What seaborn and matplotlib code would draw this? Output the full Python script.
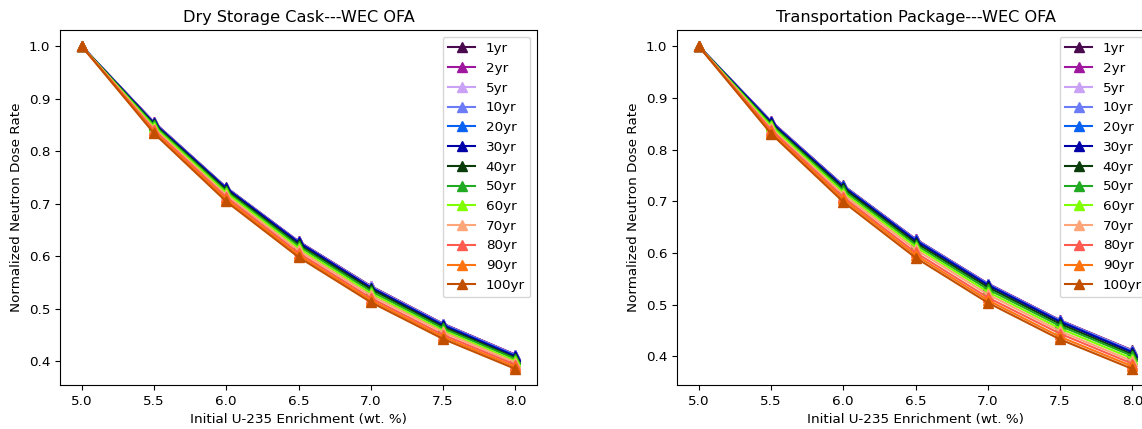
import numpy as np
import pandas as pd
import seaborn as sns
import matplotlib.pyplot as plt

plt.rcParams['font.size'] = 9.7

# enrichment (wt. %)
enrich = [5.0, 5.5, 6.0, 6.5, 7.0, 7.5, 8.0]
ages = ['1yr', '2yr', '5yr', '10yr', '20yr', '30yr', '40yr',
        '50yr', '60yr', '70yr', '80yr', '90yr', '100yr']
colors = ['#4a0a4e', '#a0179f', '#caa2f5', '#6b7cf6', '#0a62f2', '#0000a8',
          '#0b3d0b', '#22aa22', '#7fff00', '#ffa57a', '#ff5b4f', '#ff7410',
          '#c24e00']

# Dry storage cask, normalized neutron dose rate per cooling time
cask = [
    [1.0, 0.855, 0.731, 0.628, 0.543, 0.471, 0.412],
    [1.0, 0.855, 0.730, 0.628, 0.542, 0.471, 0.412],
    [1.0, 0.854, 0.730, 0.627, 0.542, 0.470, 0.411],
    [1.0, 0.854, 0.730, 0.627, 0.541, 0.470, 0.411],
    [1.0, 0.853, 0.729, 0.626, 0.540, 0.469, 0.410],
    [1.0, 0.853, 0.729, 0.626, 0.540, 0.468, 0.409],
    [1.0, 0.851, 0.726, 0.622, 0.537, 0.465, 0.406],
    [1.0, 0.849, 0.723, 0.619, 0.533, 0.462, 0.404],
    [1.0, 0.846, 0.720, 0.615, 0.529, 0.458, 0.400],
    [1.0, 0.843, 0.716, 0.611, 0.525, 0.455, 0.397],
    [1.0, 0.840, 0.712, 0.606, 0.520, 0.450, 0.393],
    [1.0, 0.837, 0.708, 0.602, 0.516, 0.446, 0.389],
    [1.0, 0.834, 0.704, 0.598, 0.512, 0.442, 0.385],
]

# Transportation package
package = [
    [1.0, 0.855, 0.731, 0.627, 0.541, 0.470, 0.412],
    [1.0, 0.855, 0.730, 0.627, 0.541, 0.470, 0.411],
    [1.0, 0.854, 0.730, 0.626, 0.540, 0.469, 0.411],
    [1.0, 0.854, 0.729, 0.626, 0.540, 0.469, 0.410],
    [1.0, 0.853, 0.729, 0.625, 0.539, 0.468, 0.409],
    [1.0, 0.853, 0.728, 0.624, 0.538, 0.467, 0.408],
    [1.0, 0.850, 0.725, 0.620, 0.534, 0.463, 0.404],
    [1.0, 0.848, 0.721, 0.616, 0.530, 0.459, 0.401],
    [1.0, 0.845, 0.717, 0.612, 0.525, 0.454, 0.396],
    [1.0, 0.841, 0.713, 0.607, 0.520, 0.449, 0.391],
    [1.0, 0.838, 0.708, 0.601, 0.514, 0.444, 0.386],
    [1.0, 0.834, 0.704, 0.596, 0.509, 0.438, 0.381],
    [1.0, 0.831, 0.699, 0.591, 0.504, 0.433, 0.376],
]

titles = ['Dry Storage Cask---WEC OFA', 'Transportation Package---WEC OFA']

fig = plt.figure(figsize=(11.42, 4.29), dpi=100)
ax1 = fig.add_axes([60 / 1142, 44 / 429, 477 / 1142, 355 / 429])
ax2 = fig.add_axes([677 / 1142, 44 / 429, 477 / 1142, 355 / 429])

for ax, data, title in zip([ax1, ax2], [cask, package], titles):
    for age, vals, c in zip(ages, data, colors):
        sns.lineplot(x=enrich, y=vals, ax=ax, color=c, marker='^',
                     markersize=6.5, markeredgecolor=c, markeredgewidth=1,
                     label=age)
    ax.set_title(title)
    ax.set_xlabel('Initial U-235 Enrichment (wt. %)')
    ax.set_ylabel('Normalized Neutron Dose Rate')
    ax.legend(loc='upper right')

fig.savefig('out.png', dpi=100)
